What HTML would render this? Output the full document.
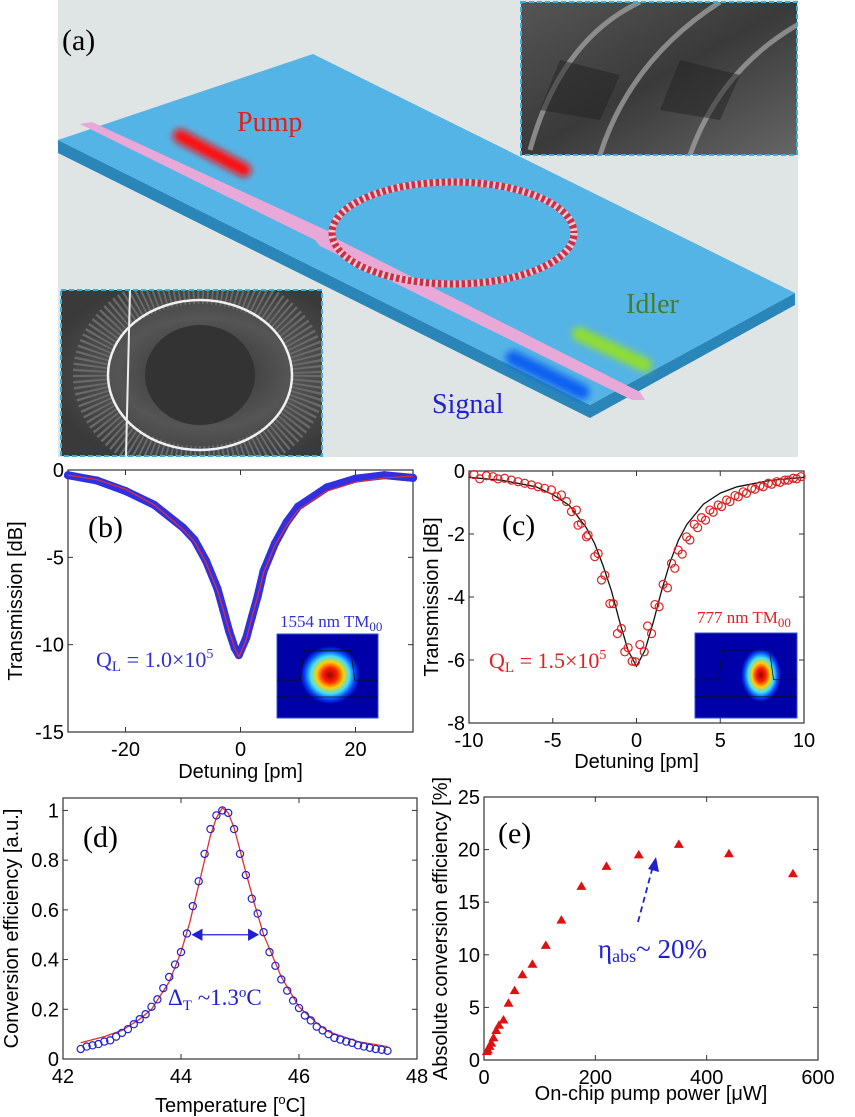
<!DOCTYPE html>
<html><head><meta charset="utf-8"><style>
html,body{margin:0;padding:0;background:#fff}
svg{display:block}
.tk{font-family:"Liberation Sans",sans-serif;font-size:20px;fill:#000}
.ser{font-family:"Liberation Serif",serif}
</style></head><body>
<svg id="fig" width="855" height="1117" viewBox="0 0 855 1117" xmlns="http://www.w3.org/2000/svg">
<defs>
<filter id="blur4" x="-50%" y="-50%" width="200%" height="200%"><feGaussianBlur stdDeviation="3.5"/></filter>
<radialGradient id="modeB" cx="0.5" cy="0.5" r="0.5">
<stop offset="0" stop-color="#a00000"/><stop offset="0.25" stop-color="#ff2000"/><stop offset="0.45" stop-color="#ffd000"/><stop offset="0.65" stop-color="#40e0ff"/><stop offset="0.85" stop-color="#0040ff"/><stop offset="1" stop-color="#0000a0"/></radialGradient>
<linearGradient id="semTR" x1="0" y1="0" x2="1" y2="1"><stop offset="0" stop-color="#555"/><stop offset="0.5" stop-color="#3a3a3a"/><stop offset="1" stop-color="#666"/></linearGradient>
<radialGradient id="semBL" cx="0.55" cy="0.5" r="0.6"><stop offset="0" stop-color="#2e2e2e"/><stop offset="0.55" stop-color="#555"/><stop offset="1" stop-color="#3a3a3a"/></radialGradient>
<clipPath id="clipBL"><rect x="61" y="290" width="261" height="166"/></clipPath>
<clipPath id="clipTR"><rect x="521" y="2" width="276" height="153"/></clipPath>
</defs>

<g>
<rect x="58" y="0" width="740" height="457" fill="#dfe4e4"/>
<polygon points="58,140 590,405 795,293 795,305 590,418 58,153" fill="#2a86b8"/>
<polygon points="313,54 795,293 590,405 58,140" fill="#55b4e6"/>
<polygon points="80,124 92,122 330,232 335,238 640,392 645,400 632,400 320,246 315,240" fill="#e8a8d8"/>
<ellipse cx="453" cy="233" rx="121" ry="51" fill="none" stroke="#c8304a" stroke-width="7"/>
<ellipse cx="453" cy="233" rx="121" ry="51" fill="none" stroke="#f4c8d0" stroke-width="7" stroke-dasharray="2.5 3.5"/>
<line x1="180" y1="136" x2="244" y2="170" stroke="#ff1010" stroke-width="14" stroke-linecap="round" filter="url(#blur4)"/>
<line x1="579" y1="334" x2="645" y2="365" stroke="#90dd30" stroke-width="14" stroke-linecap="round" filter="url(#blur4)"/>
<line x1="513" y1="358" x2="582" y2="392" stroke="#1060f0" stroke-width="15" stroke-linecap="round" filter="url(#blur4)"/>
<text x="237" y="131" class="ser" font-size="28" fill="#e02020">Pump</text>
<text x="626" y="313" class="ser" font-size="28" fill="#4a7a30">Idler</text>
<text x="432" y="413" class="ser" font-size="28" fill="#2020d0">Signal</text>
<text x="62" y="50" class="ser" font-size="30" fill="#000">(a)</text>
<g>
<g clip-path="url(#clipTR)">
<rect x="521" y="2" width="276" height="153" fill="url(#semTR)"/>
<path d="M530,150 Q560,40 640,2 M600,155 Q630,60 720,2 M690,155 Q720,70 797,25" stroke="#aaa" stroke-width="5" fill="none" opacity="0.7"/>
<path d="M560,60 L620,75 L600,120 L540,110 Z M680,60 L740,75 L720,120 L660,110 Z" fill="#222" opacity="0.5"/>
</g>
<rect x="521" y="2" width="276" height="153" fill="none" stroke="#3ab0e0" stroke-width="2" stroke-dasharray="5 3"/>
</g>
<g>
<g clip-path="url(#clipBL)">
<rect x="61" y="290" width="261" height="166" fill="url(#semBL)"/>
<ellipse cx="200" cy="375" rx="110" ry="88" fill="none" stroke="#6a6a6a" stroke-width="34" stroke-dasharray="2 3"/>
<ellipse cx="200" cy="375" rx="92" ry="75" fill="none" stroke="#f0f0f0" stroke-width="2.5"/>
<ellipse cx="200" cy="375" rx="55" ry="50" fill="#333"/>
<line x1="130" y1="290" x2="126" y2="456" stroke="#eee" stroke-width="2"/>
</g>
<rect x="61" y="290" width="261" height="166" fill="none" stroke="#3ab0e0" stroke-width="2" stroke-dasharray="5 3"/>
</g>
</g>

<g id="charts"></g>
</svg>
<script>
// ---------- Panel (b) data ----------
const bDetuning = [-30,-25,-20,-15,-10,-8,-6,-4,-3,-2,-1,-0.3,1,2,3,4,6,8,10,15,20,25,30];
const bTransmission = [-0.3,-0.6,-1.2,-2.0,-3.3,-4.0,-5.2,-6.8,-8.0,-9.2,-10.2,-10.6,-9.6,-8.4,-7.2,-5.8,-4.2,-3.0,-2.1,-1.0,-0.5,-0.3,-0.45];
const bFitX = [-30,-25,-20,-15,-10,-8,-6,-4,-3,-2,-1,-0.3,1,2,3,4,6,8,10,15,20,25,30];
const bFitY = [-0.3,-0.55,-1.1,-2.0,-3.4,-4.1,-5.3,-6.9,-8.0,-9.2,-10.2,-10.7,-9.7,-8.4,-7.2,-5.9,-4.3,-3.2,-2.3,-1.2,-0.7,-0.45,-0.35];
const bXTicks = [-20,0,20];
const bYTicks = [0,-5,-10,-15];

// ---------- Panel (c) data ----------
const cDetuning = [-9.70,-9.36,-8.96,-8.57,-8.27,-7.87,-7.47,-7.07,-6.67,-6.27,-5.88,-5.48,-5.08,-4.78,-4.48,-4.18,-3.88,-3.59,-3.49,-3.29,-2.99,-2.89,-2.49,-2.29,-2.09,-1.89,-1.59,-1.39,-1.14,-0.90,-0.70,-0.50,-0.26,-0.06,0.20,0.46,0.66,0.90,1.10,1.35,1.59,1.85,2.09,2.29,2.49,2.73,2.99,3.19,3.45,3.65,3.88,4.12,4.38,4.58,4.88,5.08,5.38,5.58,5.88,6.08,6.37,6.57,6.87,7.07,7.37,7.57,7.87,8.07,8.37,8.57,8.86,9.06,9.36,9.56,9.82];
const cTransmission = [-0.11,-0.25,-0.15,-0.18,-0.25,-0.23,-0.29,-0.34,-0.39,-0.44,-0.50,-0.55,-0.60,-0.82,-0.76,-0.97,-1.29,-1.24,-1.72,-1.66,-2.09,-2.03,-2.72,-2.62,-3.46,-3.31,-4.21,-4.21,-5.16,-5.00,-5.74,-5.61,-6.04,-6.06,-5.51,-5.74,-4.92,-5.16,-4.24,-4.31,-3.60,-3.71,-2.93,-3.09,-2.51,-2.64,-2.09,-2.19,-1.69,-1.80,-1.48,-1.56,-1.24,-1.31,-1.08,-1.13,-0.92,-0.97,-0.78,-0.82,-0.66,-0.71,-0.55,-0.58,-0.47,-0.50,-0.39,-0.42,-0.34,-0.36,-0.29,-0.29,-0.23,-0.25,-0.18];
const cFitX = [-10,-8,-6,-5,-4,-3,-2.5,-2,-1.5,-1,-0.5,0,0.5,1,1.5,2,2.5,3,4,5,6,8,10];
const cFitY = [-0.2,-0.3,-0.5,-0.75,-1.1,-1.8,-2.3,-3.0,-3.8,-4.8,-5.7,-6.2,-5.7,-4.8,-3.8,-2.9,-2.2,-1.7,-1.05,-0.7,-0.5,-0.3,-0.2];
const cXTicks = [-10,-5,0,5,10];
const cYTicks = [0,-2,-4,-6,-8];

// ---------- Panel (d) data ----------
const dTemperature = [42.3,42.4,42.5,42.6,42.7,42.8,42.9,43.0,43.1,43.2,43.3,43.4,43.5,43.6,43.7,43.8,43.9,44.0,44.1,44.2,44.3,44.4,44.5,44.6,44.7,44.8,44.9,45.0,45.1,45.2,45.3,45.4,45.5,45.6,45.7,45.8,45.9,46.0,46.1,46.2,46.3,46.4,46.5,46.6,46.7,46.8,46.9,47.0,47.1,47.2,47.3,47.4,47.5];
const dEfficiency = [0.04,0.05,0.055,0.06,0.07,0.075,0.09,0.105,0.12,0.14,0.16,0.18,0.21,0.24,0.285,0.33,0.38,0.43,0.505,0.615,0.715,0.825,0.925,0.98,1.0,0.99,0.925,0.825,0.74,0.645,0.585,0.51,0.43,0.375,0.32,0.275,0.235,0.205,0.175,0.155,0.13,0.115,0.1,0.085,0.078,0.07,0.065,0.055,0.05,0.045,0.04,0.037,0.033];
const dFitX = [42.3,42.7,43.0,43.3,43.5,43.8,44.0,44.15,44.3,44.5,44.6,44.7,44.8,44.9,45.0,45.1,45.25,45.4,45.7,46.0,46.3,46.5,47.0,47.5];
const dFitY = [0.065,0.09,0.115,0.16,0.2,0.31,0.43,0.55,0.7,0.9,0.97,1.01,0.99,0.93,0.84,0.75,0.62,0.5,0.33,0.21,0.145,0.11,0.07,0.05];
const dXTicks = [42,44,46,48];
const dYTicks = [0,0.2,0.4,0.6,0.8,1];
const dYTickLabels = ["0","0.2","0.4","0.6","0.8","1"];

// ---------- Panel (e) data ----------
const ePower = [555,440,350,278,220,175,139,111,87,69,55,44,35,27,22,17,13,10,7,5];
const eEfficiency = [17.7,19.6,20.5,19.5,18.4,16.5,13.3,10.9,9.1,8.1,6.6,5.4,3.8,3.3,2.8,2.1,1.6,1.3,0.95,0.8];
const eXTicks = [0,200,400,600];
const eYTicks = [0,5,10,15,20,25];

const NS = "http://www.w3.org/2000/svg";
const root = document.getElementById('charts');
function el(tag, attrs, parent){
  const e = document.createElementNS(NS, tag);
  for (const k in attrs) e.setAttribute(k, attrs[k]);
  (parent||root).appendChild(e);
  return e;
}
function axes(c){
  const sx = v => c.L + (v - c.x0) / (c.x1 - c.x0) * (c.R - c.L);
  const sy = v => c.B - (v - c.y0) / (c.y1 - c.y0) * (c.B - c.T);
  const g = el('g', {});
  
  
  const box = el('rect', {x:c.L, y:c.T, width:c.R-c.L, height:c.B-c.T, fill:'none', stroke:'#333', 'stroke-width':1.2}, g);
  
  
  c.xt.forEach((v,i) => {
    const x = sx(v);
    el('line', {x1:x, y1:c.B, x2:x, y2:c.B-5, stroke:'#333'}, g);
    el('line', {x1:x, y1:c.T, x2:x, y2:c.T+5, stroke:'#333'}, g);
    const t = el('text', {x:x, y:c.B+24, 'text-anchor':'middle', class:'tk'}, g);
    t.textContent = c.xl ? c.xl[i] : String(v);
    
    
  });
  c.yt.forEach((v,i) => {
    const y = sy(v);
    el('line', {x1:c.L, y1:y, x2:c.L+5, y2:y, stroke:'#333'}, g);
    el('line', {x1:c.R, y1:y, x2:c.R-5, y2:y, stroke:'#333'}, g);
    const t = el('text', {x:c.L-4, y:y+7, 'text-anchor':'end', class:'tk'}, g);
    t.textContent = c.yl ? c.yl[i] : String(v);
    
    
  });
  const xt = el('text', {x:(c.L+c.R)/2, y:c.xtY, 'text-anchor':'middle', class:'tk'}, g);
  xt.textContent = c.xTitle;
  
  
  const yt = el('text', {x:0, y:0, 'text-anchor':'middle', class:'tk', transform:`translate(${c.ytX},${(c.T+c.B)/2}) rotate(-90)`}, g);
  yt.textContent = c.yTitle;
  
  
  return {sx, sy};
}
function line(xs, ys, ax, attrs, name){
  const d = xs.map((x,i) => (i?'L':'M') + ax.sx(x).toFixed(1) + ',' + ax.sy(ys[i]).toFixed(1)).join('');
  const p = el('path', Object.assign({d, fill:'none'}, attrs));
  
  
  return p;
}
function circles(xs, ys, ax, r, color, sw, name){
  const g = el('g', {});
  
  
  xs.forEach((x,i) => {
    const c = el('circle', {cx:ax.sx(x), cy:ax.sy(ys[i]), r, fill:'none', stroke:color, 'stroke-width':sw}, g);
    
    
  });
}
function txt(x, y, s, size, color, name, cls){
  const t = el('text', {x, y, 'font-size':size, fill:color, class:cls||'ser'});
  t.innerHTML = s;
  
  
  return t;
}
function modeImg(x, y, w, h, cx, cy, rx, ry, name){
  const g = el('g', {});
  
  
  el('rect', {x, y, width:w, height:h, fill:'#0000a8', stroke:'#3050d0'}, g);
  el('ellipse', {cx, cy, rx, ry, fill:'url(#modeB)'}, g);
  el('path', {d:`M${x},${y+h*0.55} L${x+w*0.23},${y+h*0.55} L${x+w*0.27},${y+h*0.2} L${x+w*0.73},${y+h*0.2} L${x+w*0.77},${y+h*0.55} L${x+w},${y+h*0.55} M${x},${y+h*0.75} L${x+w},${y+h*0.75}`, fill:'none', stroke:'#111', 'stroke-width':0.8}, g);
}

// Panel b
const axB = axes({name:'panel-b', L:68, R:413, T:470, B:732, x0:-30, x1:30, y0:-15, y1:0, xt:bXTicks, yt:bYTicks, xTitle:'Detuning [pm]', xtY:778, yTitle:'Transmission [dB]', ytX:22});
circles(bDetuning, bTransmission, axB, 3, '#3030e0', 2.2, 'panel-b-measured-points');
line(bDetuning, bTransmission, axB, {stroke:'#3030e0', 'stroke-width':8, 'stroke-linejoin':'round', 'stroke-linecap':'round'}, 'panel-b-measured-band');
line(bFitX, bFitY, axB, {stroke:'#e03030', 'stroke-width':1.2}, 'panel-b-fit-line');
txt(88, 537, '(b)', 30, '#000', 'panel-b-label');
txt(96, 667, 'Q<tspan font-size="15" dy="4">L</tspan><tspan dy="-4"> = 1.0×10</tspan><tspan font-size="14" dy="-9">5</tspan>', 22, '#3030d0', 'panel-b-q-annotation');
txt(280, 627, '1554 nm TM<tspan font-size="13" dy="4">00</tspan>', 17, '#3030d0', 'panel-b-mode-label');
modeImg(277, 634, 101, 84, 330, 675, 30, 29, 'panel-b-mode-profile');

// Panel c
const axC = axes({name:'panel-c', L:469, R:804, T:471, B:723, x0:-10, x1:10, y0:-8, y1:0, xt:cXTicks, yt:cYTicks, xTitle:'Detuning [pm]', xtY:768, yTitle:'Transmission [dB]', ytX:438});
line(cFitX, cFitY, axC, {stroke:'#111', 'stroke-width':1.3}, 'panel-c-fit-line');
circles(cDetuning, cTransmission, axC, 4, '#e02020', 1.2, 'panel-c-measured-points');
txt(502, 535, '(c)', 30, '#000', 'panel-c-label');
txt(489, 668, 'Q<tspan font-size="15" dy="4">L</tspan><tspan dy="-4"> = 1.5×10</tspan><tspan font-size="14" dy="-9">5</tspan>', 22, '#e02020', 'panel-c-q-annotation');
txt(697, 623, '777 nm TM<tspan font-size="13" dy="4">00</tspan>', 17, '#e02020', 'panel-c-mode-label');
modeImg(695, 633, 102, 85, 761, 675, 20, 27, 'panel-c-mode-profile');

// Panel d
const axD = axes({name:'panel-d', L:63, R:417, T:798, B:1059, x0:42, x1:48, y0:0, y1:1.05, xt:dXTicks, yt:dYTicks, yl:dYTickLabels, xTitle:'', xtY:1112, yTitle:'Conversion efficiency [a.u.]', ytX:18});
txt(155, 1112, 'Temperature [<tspan font-size="13" dy="-8">o</tspan><tspan dy="8">C]</tspan>', 20, '#000', 'panel-d-x-axis-title', 'tk');
line(dFitX, dFitY, axD, {stroke:'#e03030', 'stroke-width':1.3}, 'panel-d-fit-line');
circles(dTemperature, dEfficiency, axD, 3.6, '#2020d0', 1.2, 'panel-d-measured-points');
(function(){
  const y = axD.sy(0.5), x1 = axD.sx(44.2), x2 = axD.sx(45.3);
  const a = el('path', {d:`M${x1},${y}L${x2},${y}M${x1},${y}l9,-5v10z M${x2},${y}l-9,-5v10z`, stroke:'#2020d0', fill:'#2020d0', 'stroke-width':1.3});
  
  
})();
txt(83, 847, '(d)', 30, '#000', 'panel-d-label');
txt(168, 1005, 'Δ<tspan font-size="15" dy="5">T</tspan><tspan dy="-5"> ~1.3</tspan><tspan font-size="15" dy="-8">o</tspan><tspan dy="8">C</tspan>', 23, '#2020d0', 'panel-d-width-annotation');

// Panel e
const axE = axes({name:'panel-e', L:484, R:818, T:797, B:1060, x0:0, x1:600, y0:0, y1:25, xt:eXTicks, yt:eYTicks, xTitle:'On-chip pump power [μW]', xtY:1100, yTitle:'Absolute conversion efficiency [%]', ytX:447});
(function(){
  const g = el('g', {});
  
  
  ePower.forEach((p,i) => {
    const x = axE.sx(p), y = axE.sy(eEfficiency[i]);
    const t = el('path', {d:`M${x},${y-5}L${x+5},${y+3.5}L${x-5},${y+3.5}Z`, fill:'#e01010'}, g);
    
    
  });
})();
(function(){
  const a = el('line', {x1:638, y1:922, x2:653, y2:866, stroke:'#2020d0', 'stroke-width':1.8, 'stroke-dasharray':'6 4'});
  
  
  const h = el('path', {d:'M656,857 L659,872 L648,869 Z', fill:'#2020d0'});
  
  
})();
txt(498, 843, '(e)', 30, '#000', 'panel-e-label');
txt(598, 958, 'η<tspan font-size="18" dy="4">abs</tspan><tspan dy="-4">~ 20%</tspan>', 27, '#2020d0', 'panel-e-peak-annotation');
</script>
</body></html>
